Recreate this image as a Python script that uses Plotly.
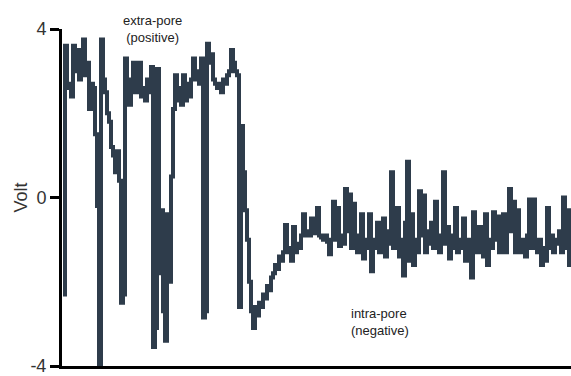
import plotly.graph_objects as go

# Sampled membrane/pore voltage trace (Volt), one sample every 2 time units
volts = [
    -2.3, 3.6, 2.6, 2.7, 2.4, 3.6, 3.0, 3.5, 2.8, 3.1,
    3.75, 2.9, 3.2, 2.1, 2.7, 2.6, 1.5, -0.2, -4.1, 3.75,
    2.8, 2.5, 2.0, 1.8, 1.2, 1.0, 0.6, 1.1, 0.4, -2.5,
    -2.3, 3.3, 2.4, 2.2, 2.8, 3.2, 2.5, 2.7, 3.2, 2.4,
    2.6, 2.3, 2.8, 2.5, 3.1, -3.55, -3.1, 3.05, -1.8, -0.3,
    -2.7, -3.4, -0.4, -2.0, 0.5, 2.1, 2.9, 2.3, 2.6, 2.2,
    2.9, 2.3, 2.7, 2.4, 2.8, 3.3, 2.8, 3.0, 2.7, 3.3,
    -2.85, -2.7, 3.65, 3.2, 3.4, 2.8, 2.7, 2.6, 2.7, 2.5,
    2.8, 2.7, 2.9, 3.0, 3.5, 3.2, 3.0, 2.9, -2.6, 1.7,
    0.6, -0.3, -1.0, -2.0, -2.7, -3.1, -2.6, -2.8, -2.5, -2.6,
    -2.3, -2.4, -2.1, -2.2, -1.9, -1.8, -1.6, -1.7, -1.4, -1.5,
    -1.3, -0.65, -1.3, -1.2, -1.5, -0.7, -1.3, -1.1, -1.2, -0.9,
    -0.4, -0.9, -0.8, -0.9, -0.5, -0.85, -0.8, -0.25, -0.9, -0.95,
    -1.0, -0.9, -1.05, -1.35, -1.0, -0.1, -1.0, -0.25, -1.15, -0.9,
    -1.1, 0.2, -0.8, 0.07, -1.2, -0.15, -1.0, -1.3, -0.9, -0.4,
    -1.45, -1.0, -1.2, -0.4, -1.75, -1.0, -1.2, -0.6, -1.3, -0.9,
    -0.5, -1.4, -0.8, -1.1, 0.6, -1.2, -0.9, -0.25, -1.4, -1.0,
    -1.85, -0.6, 0.85, -1.5, -0.4, -1.6, -1.0, -1.3, 0.15, -0.9,
    0.05, -1.3, -0.8, -1.1, -0.6, -1.2, -0.1, -1.0, -1.3, -0.9,
    0.6, -1.1, -0.7, -1.45, -1.2, -0.9, -0.25, -1.3, -1.0, -1.2,
    -0.5, -1.5, -1.0, -1.2, -1.9, -0.35, -1.0, -1.3, -0.7, -1.1,
    -1.4, -0.4, -1.6, -1.0, -1.2, -0.35, -1.0, -0.45, -1.3, -1.1,
    -0.4, -1.3, -0.8, 0.2, -0.8, -0.1, -1.3, -0.3, -1.3, -1.2,
    -1.0, -1.4, -0.9, -0.05, -1.2, -0.05, -1.1, -1.3, -1.0, -1.6,
    -1.2, -1.5, -0.25, -1.2, -0.9, -1.3, -1.0, -1.1, -0.8, -1.3,
    0.0, -1.2, -0.3, -1.6, -1.0,
]
dt = 2
times = [i * dt for i in range(len(volts))]

ytick_vals = [-4, 0, 4]
ytick_text = ["-4", "0", "4"]

font_family = "Arial, Liberation Sans, sans-serif"
line_color = "#2e3c4b"

fig = go.Figure()
fig.add_trace(go.Scatter(
    x=times, y=volts, mode="lines",
    line=dict(color=line_color, width=4, shape="hv"),
    showlegend=False, hoverinfo="skip",
))

fig.update_layout(
    width=571, height=376,
    margin=dict(l=62, r=0, t=29, b=10),
    paper_bgcolor="white", plot_bgcolor="white",
    font=dict(family=font_family, color="#222222"),
    xaxis=dict(
        range=[-1, times[-1]], showgrid=False, zeroline=False,
        showticklabels=False, ticks="", automargin=False,
        showline=True, linecolor="black", linewidth=3,
    ),
    yaxis=dict(
        range=[-4, 4], showgrid=False, zeroline=False,
        tickvals=ytick_vals, ticktext=ytick_text, automargin=False,
        ticks="outside", ticklen=9, tickwidth=3, tickcolor="black",
        ticklabeloverflow="allow",
        tickfont=dict(size=18, family=font_family, color="#333333"),
        showline=True, linecolor="black", linewidth=3,
    ),
    annotations=[
        dict(text="Volt", textangle=-90, xref="paper", yref="y",
             x=0, y=0, xanchor="center", xshift=-42, showarrow=False,
             font=dict(size=18, family=font_family, color="#333333")),
        dict(text="extra-pore<br>(positive)", xref="paper", yref="paper",
             x=(152 - 62) / 509, y=1, yshift=0, yanchor="middle",
             xanchor="center", showarrow=False, align="center",
             font=dict(size=13, family=font_family, color="#222222")),
        dict(text="intra-pore<br>(negative)", xref="paper", yref="y",
             x=(349 - 62) / 509, xanchor="left", y=-2.95,
             showarrow=False, align="left",
             font=dict(size=13, family=font_family, color="#222222")),
    ],
)

fig.write_html("out.html")
